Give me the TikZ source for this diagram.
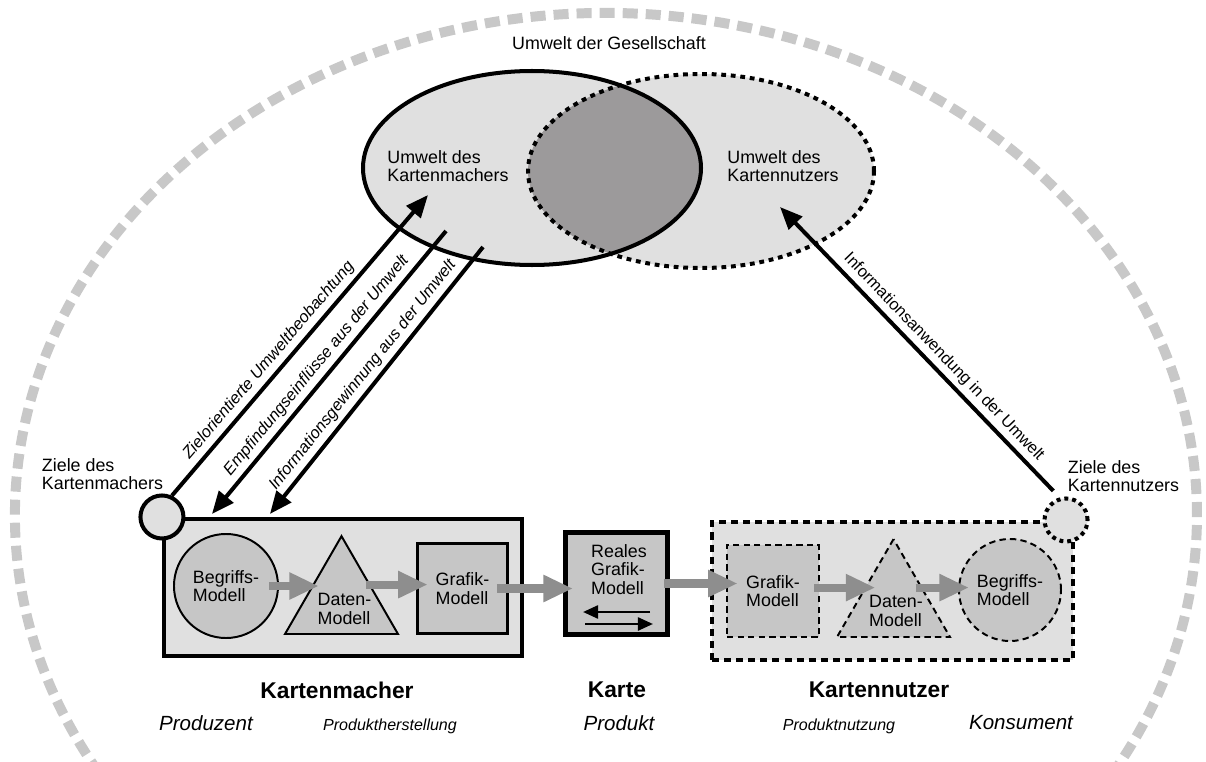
\documentclass[tikz,border=0pt]{standalone}
\usepackage{fontspec}
\setmainfont{Liberation Sans}
\usetikzlibrary{shapes.geometric,arrows.meta,positioning}

\definecolor{ringgray}{HTML}{C8C8C8}
\definecolor{envfill}{HTML}{E0E0E0}
\definecolor{lensfill}{HTML}{9C9A9B}
\definecolor{modelfill}{HTML}{C6C6C6}
\definecolor{flowgray}{HTML}{8E8E8E}

\tikzset{
  txt/.style={font=\fontsize{12.7}{13.3}\selectfont, align=left, inner sep=0pt},
  role/.style={font=\fontsize{16.2}{18}\selectfont\bfseries, inner sep=0pt},
  rolesub/.style={font=\fontsize{14.6}{16}\selectfont\itshape, inner sep=0pt},
  phase/.style={font=\fontsize{11.4}{13}\selectfont\itshape, inner sep=0pt},
  arrowlabel/.style={font=\fontsize{11.7}{13}\selectfont\itshape, sloped, above, inner sep=3pt},
  actor/.style={draw, line width=2.85pt, fill=envfill, inner sep=0pt},
  goal/.style={circle, draw, line width=2.85pt, fill=envfill, minimum size=1.075cm, inner sep=0pt},
  model/.style={draw, line width=1.4pt, fill=modelfill, inner sep=0pt, align=left,
    font=\fontsize{12.7}{13.3}\selectfont},
  modeldash/.style={model, dash pattern=on 4.5pt off 3pt},
  triangle/.style={regular polygon, regular polygon sides=3, minimum size=3.26cm},
  obs/.style={line width=2.85pt, -{Triangle[length=16pt,width=13pt]}},
  flow/.style={flowgray, line width=5.7pt, -{Triangle[length=21pt,width=18pt]}},
  swap/.style={line width=1.9pt, -{Triangle[length=10.7pt,width=9.2pt]}}
}

\begin{document}
\begin{tikzpicture}[x=0.025cm, y=0.025cm]
  \useasboundingbox (0,0) rectangle (1206,-762);

  % society
  \draw[ringgray, line width=7.1pt, dash pattern=on 10.7pt off 5.7pt]
    (606,-515) ++(211:591 and 502) arc[start angle=211, end angle=-31, x radius=591, y radius=502];
  \node[txt] (society) at (609,-43) {Umwelt der Gesellschaft};

  % environments
  \fill[envfill] (532,-168) ellipse [x radius=169, y radius=97];
  \fill[envfill] (701,-171) ellipse [x radius=173, y radius=97];
  \begin{scope}
    \clip (532,-168) ellipse [x radius=169, y radius=97];
    \fill[lensfill] (701,-171) ellipse [x radius=173, y radius=97];
  \end{scope}
  \draw[line width=2.85pt, dash pattern=on 3.4pt off 3.4pt] (701,-171) ellipse [x radius=173, y radius=97];
  \draw[line width=2.85pt] (532,-168) ellipse [x radius=169, y radius=97];
  \node[txt] (envmaker) at (448,-166) {Umwelt des\\Kartenmachers};
  \node[txt] (envuser) at (783,-166) {Umwelt des\\Kartennutzers};

  % actors
  \node[actor, minimum width=8.95cm, minimum height=3.425cm] (maker) at (343,-587.5) {};
  \node[actor, fill=modelfill, line width=3.56pt, minimum width=2.55cm, minimum height=2.55cm] (map) at (616.5,-583.5) {};
  \node[actor, dash pattern=on 5pt off 3.6pt, minimum width=9.025cm, minimum height=3.45cm] (user) at (892.5,-591) {};

  \node[goal] (goalmaker) at (maker.north west) {};
  \node[goal, dash pattern=on 2.8pt off 2.8pt] (goaluser) at ([xshift=-0.225cm]user.north east) {};
  \node[txt] (goalmakertxt) at (102.5,-474) {Ziele des\\Kartenmachers};
  \node[txt] (goalusertxt) at (1123.5,-476) {Ziele des\\Kartennutzers};

  % models of the map maker
  \node[model, circle, minimum size=2.6cm] (concept1) at (226,-586) {Begriffs-\\Modell};
  \node[model, triangle] (data1) at (341.5,-601.4) {};
  \node[txt] (data1txt) at (344.5,-609) {Daten-\\Modell};
  \node[model, line width=1.8pt, minimum size=2.25cm] (graphic1) at (462.5,-588.5) {Grafik-\\Modell};

  % the map
  \node[txt] (maptxt) at (619,-569.5) {Reales\\Grafik-\\Modell};
  \draw[swap] ([shift={(33.5,-28.5)}]map.center) -- ([shift={(-33.5,-28.5)}]map.center);
  \draw[swap] ([shift={(-31.5,-40.5)}]map.center) -- ([shift={(36.5,-40.5)}]map.center);

  % models of the map user
  \node[modeldash, line width=1.8pt, minimum size=2.3cm] (graphic2) at (773,-591) {Grafik-\\Modell};
  \node[modeldash, triangle] (data2) at (893.5,-604.4) {};
  \node[txt] (data2txt) at (896,-611) {Daten-\\Modell};
  \node[modeldash, circle, minimum size=2.55cm] (concept2) at (1010,-590) {Begriffs-\\Modell};

  % production and use
  \draw[flow, shorten <=-7pt, shorten >=-4.6pt] (concept1.east) -- (concept1.east -| data1.side 1);
  \draw[flow, shorten <=-3.6pt, shorten >=-8.2pt] (data1.side 3) -- (data1.side 3 -| graphic1.west);
  \draw[flow, shorten <=-8.5pt, shorten >=-7.1pt] (graphic1.east) -- (graphic1.east -| map.west);
  \draw[flow, shorten <=-4.6pt, shorten >=-8.5pt] (map.east) -- (map.east -| graphic2.west);
  \draw[flow, shorten <=-4.3pt, shorten >=-7.8pt] (graphic2.east |- data2.side 1) -- (data2.side 1);
  \draw[flow, shorten <=-5pt, shorten >=-7.8pt] (data2.side 3) -- (data2.side 3 -| concept2.west);

  % exchange with the environments
  \coordinate (obstip) at (428,-195);
  \coordinate (sensstart) at (446,-231);
  \coordinate (infostart) at (483,-247);
  \coordinate (applytip) at (780,-207);
  \draw[obs] (goalmaker.65) -- (obstip)
    node[arrowlabel, pos=0.42] {Zielorientierte Umweltbeobachtung};
  \draw[obs] (sensstart) -- ([shift={(50,3)}]maker.north west)
    node[arrowlabel, pos=0.507] {Empfindungseinflüsse aus der Umwelt};
  \draw[obs] (infostart) -- ([shift={(108,3)}]maker.north west)
    node[arrowlabel, pos=0.513] {Informationsgewinnung aus der Umwelt};
  \draw[obs, shorten <=6.4pt] (goaluser.106) -- (applytip)
    node[arrowlabel, pos=0.45, font=\fontsize{11.7}{13}\selectfont] {Informationsanwendung in der Umwelt};

  % captions
  \node[role] (makername) at (337,-690) {Kartenmacher};
  \node[role] (mapname) at (617,-690) {Karte};
  \node[role] (username) at (879,-690) {Kartennutzer};
  \node[rolesub] (producer) at (206,-723) {Produzent};
  \node[phase] (making) at (390,-726) {Produktherstellung};
  \node[rolesub] (product) at (619,-723) {Produkt};
  \node[phase] (using) at (839,-726) {Produktnutzung};
  \node[rolesub] (consumer) at (1021,-723) {Konsument};
\end{tikzpicture}
\end{document}
